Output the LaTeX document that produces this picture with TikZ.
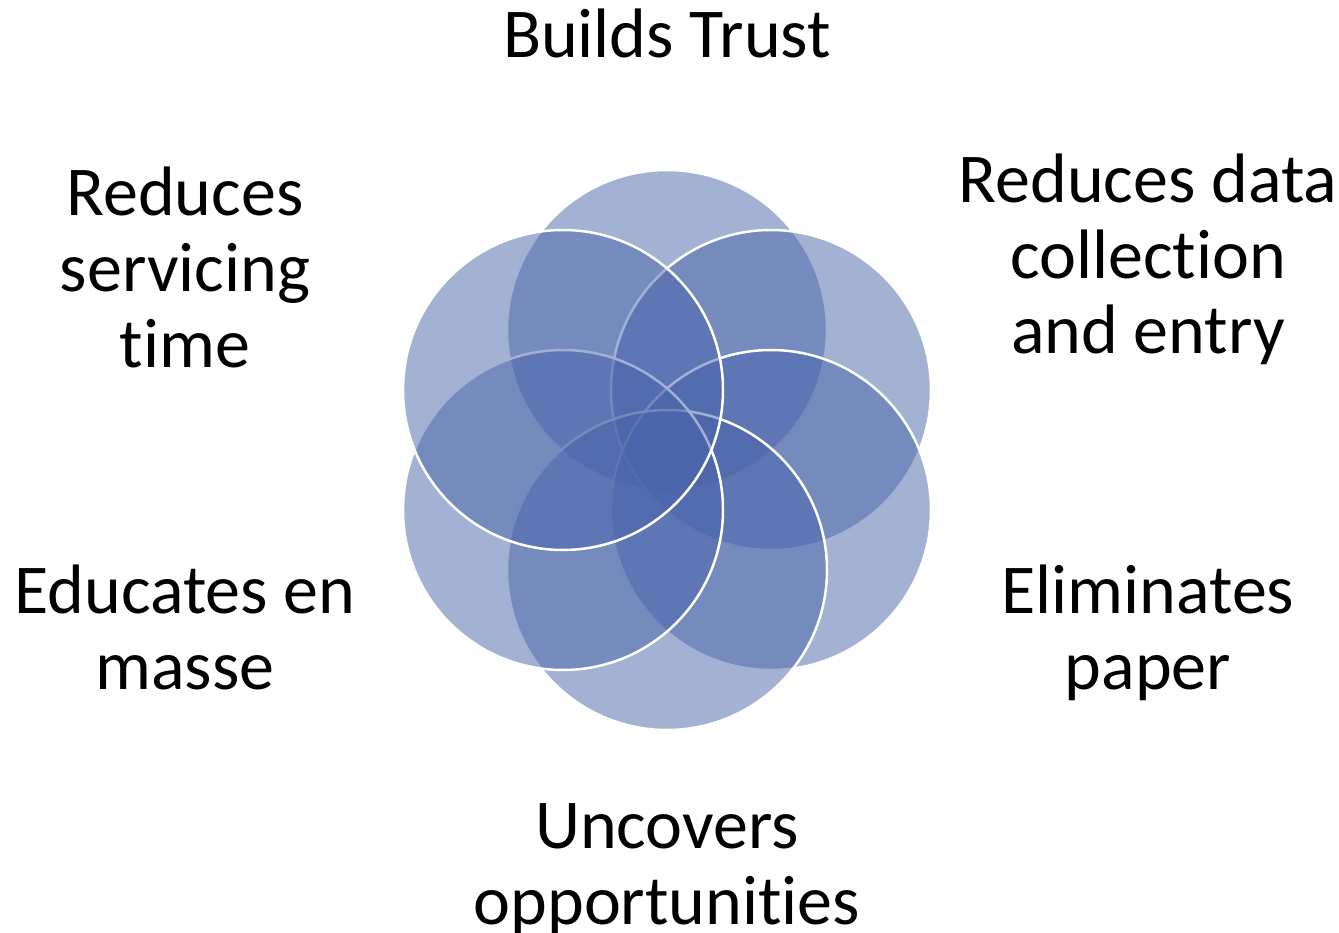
\documentclass[tikz,border=0pt]{standalone}
\usepackage{fontspec}
\setmainfont{Carlito}[Ligatures=NoCommon]
\definecolor{petal}{RGB}{72,99,168}
\begin{document}
\begin{tikzpicture}[x=1pt,y=1pt,
  petalstyle/.style={circle, minimum size=320pt, inner sep=0pt,
    fill=petal, fill opacity=0.5, draw=white, draw opacity=1, line width=2.5pt},
  labelstyle/.style={align=center, anchor=base, inner sep=0pt,
    font=\fontsize{70}{76}\selectfont}]
  \useasboundingbox (0,0) rectangle (1339,-933);
  % six overlapping petals, drawn clockwise from the top
  \node[petalstyle] (p1) at (667,-330) {};
  \node[petalstyle] (p2) at (771,-390) {};
  \node[petalstyle] (p3) at (771,-510) {};
  \node[petalstyle] (p4) at (667,-570) {};
  \node[petalstyle] (p5) at (563,-510) {};
  \node[petalstyle] (p6) at (563,-390) {};
  % labels around the petals (anchored at the last line's baseline)
  \node[labelstyle] (t1) at (667,-58) {Builds Trust};
  \node[labelstyle] (t2) at (1148,-354) {Reduces data\\collection\\and entry};
  \node[labelstyle] (t3) at (1148,-689) {Eliminates\\paper};
  \node[labelstyle] (t4) at (667,-924) {Uncovers\\opportunities};
  \node[labelstyle] (t5) at (185,-689) {Educates en\\masse};
  \node[labelstyle] (t6) at (185,-367) {Reduces\\servicing\\time};
\end{tikzpicture}
\end{document}
